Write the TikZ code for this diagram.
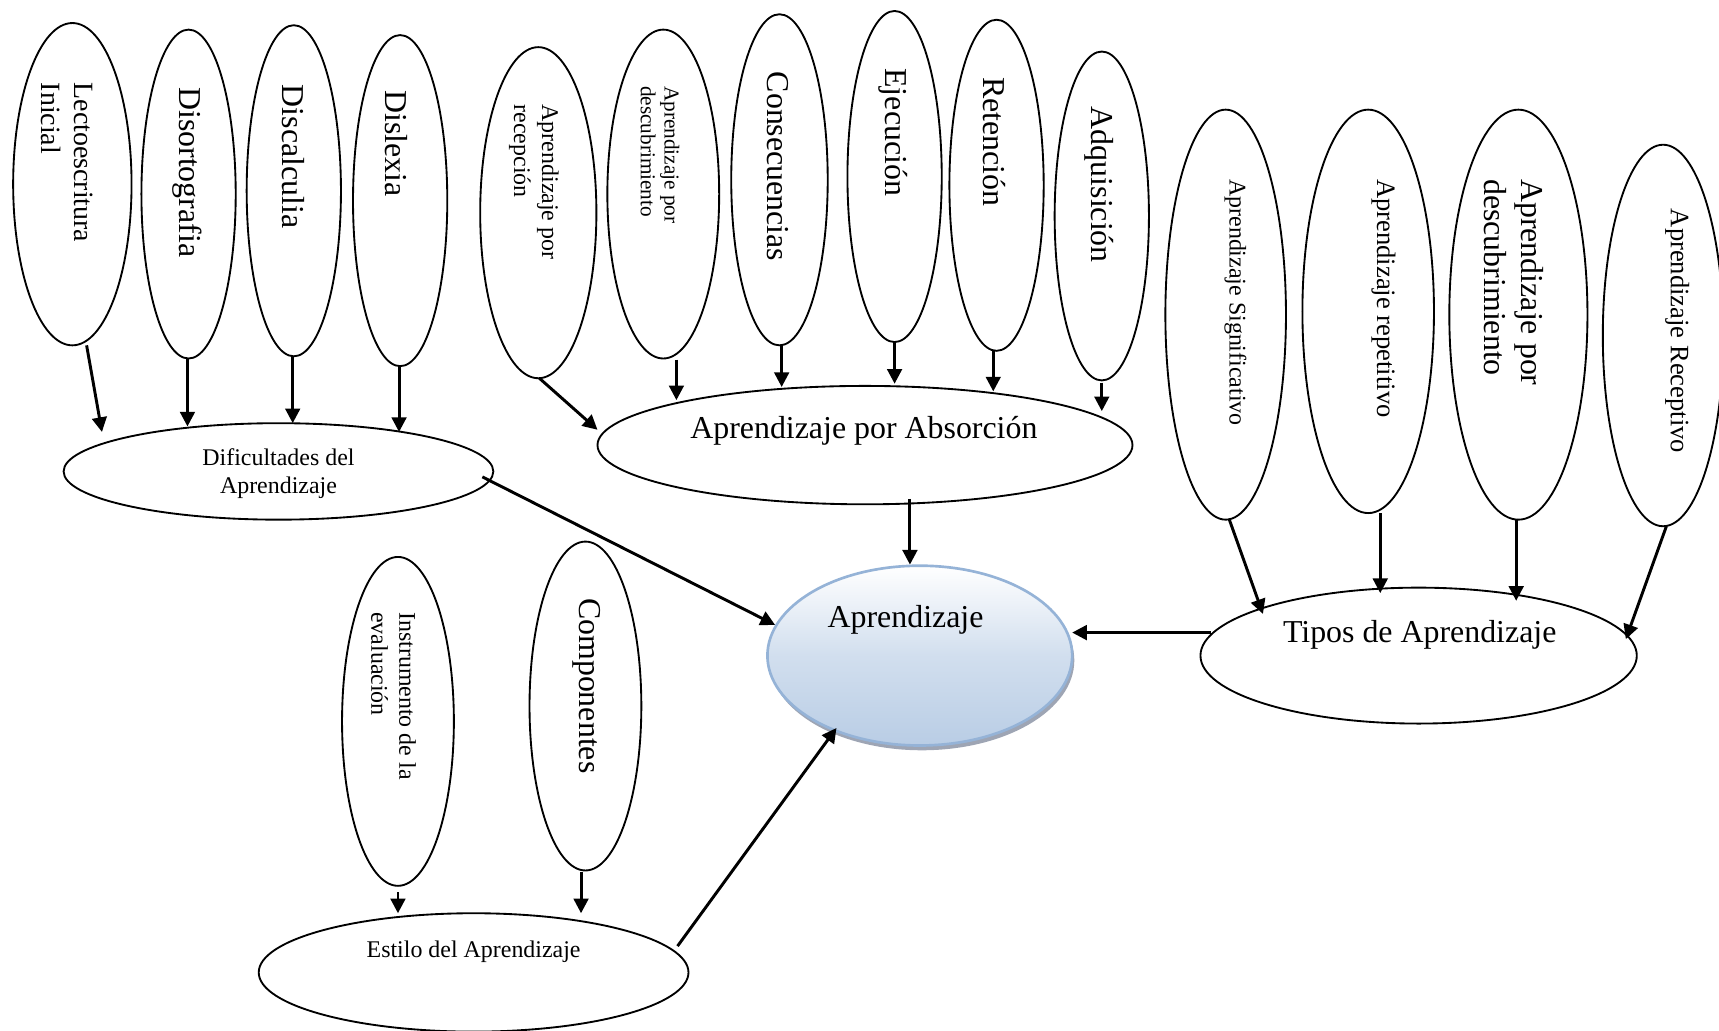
\documentclass[tikz,border=0pt]{standalone}
\usepackage{fontspec}
\setmainfont{Liberation Serif}
\usetikzlibrary{shapes.geometric,arrows.meta,calc,shadows}
\definecolor{aprB}{RGB}{185,205,229}
\definecolor{aprD}{RGB}{149,179,215}
\definecolor{aprS}{RGB}{125,135,155}
\newcommand\setfs[2]{\fontsize{#1}{#2}\selectfont}
\tikzset{
  ov/.style 2 args={draw, ellipse, line width=0.7pt, inner sep=0pt, outer sep=0pt,
    minimum width=#1*0.825pt, minimum height=#2*0.825pt},
  arr/.style={line width=1.1pt, -{Triangle[length=5.5pt,width=5.5pt]}},
  vt/.style={rotate=-90, anchor=west, align=left, inner sep=0pt},
  ht/.style={align=center, inner sep=0pt},
}
\begin{document}
\begin{tikzpicture}[x=0.4125pt, y=-0.4125pt]
\useasboundingbox (0,0) rectangle (1568,940);

% --- Dificultades group ---
\node[ov={54}{147}] (lect) at (66,168) {};
\node[ov={43}{150}] (diso) at (172,177) {};
\node[ov={43}{151}] (disc) at (268,174) {};
\node[ov={43}{151}] (disl) at (365,183) {};
\node[ov={196}{44}] (dif) at (254,430) {};
\node[vt, font=\setfs{10.5}{12.5}] (lectT) at (61,75) {Lectoescritura\\Inicial};
\node[vt, font=\setfs{12}{14}] (disoT) at (171,79) {Disortografia};
\node[vt, font=\setfs{12}{14}] (discT) at (268,77) {Discalculia};
\node[vt, font=\setfs{12}{14}] (dislT) at (362,82) {Dislexia};
\node[ht, font=\setfs{9}{10.5}] (difT) at (254,432) {Dificultades del\\Aprendizaje};

% --- Absorcion group ---
\node[ov={53}{151}] (recep) at (491,194) {};
\node[ov={51}{150}] (desc1) at (605,177) {};
\node[ov={44}{151}] (cons) at (711,164) {};
\node[ov={43}{151}] (ejec) at (816,161) {};
\node[ov={43}{151}] (ret) at (909,169) {};
\node[ov={43}{150}] (adq) at (1005,197) {};
\node[ov={244}{54}] (abs) at (789,406) {};
\node[vt, font=\setfs{9}{10.5}] (recepT) at (487,95) {Aprendizaje por\\recepción};
\node[vt, font=\setfs{8}{9}] (desc1T) at (602,78) {Aprendizaje por\\descubrimiento};
\node[vt, font=\setfs{12}{14}] (consT) at (710,65) {Consecuencias};
\node[vt, font=\setfs{12}{14}] (ejecT) at (815,62) {Ejecución};
\node[vt, font=\setfs{12}{14}] (retT) at (907,70) {Retención};
\node[vt, font=\setfs{12}{14}] (adqT) at (1003,97) {Adquisición};
\node[ht, font=\setfs{12}{14}] (absT) at (788,393) {Aprendizaje por Absorción};

% --- Tipos group ---
\node[ov={55}{187}] (sig) at (1118,287) {};
\node[ov={60}{184}] (rep) at (1248,284) {};
\node[ov={63}{187}] (desc2) at (1385,287) {};
\node[ov={55}{174}] (recv) at (1517,306) {};
\node[ov={199}{62}] (tipos) at (1294,598) {};
\node[vt, font=\setfs{9}{10.5}] (sigT) at (1127,163) {Aprendizaje Significativo};
\node[vt, font=\setfs{10}{12}] (repT) at (1262,163) {Aprendizaje repetitivo};
\node[vt, font=\setfs{12}{14}] (desc2T) at (1381,163) {Aprendizaje por\\descubrimiento};
\node[vt, font=\setfs{10}{12}] (recvT) at (1530,190) {Aprendizaje Receptivo};
\node[ht, font=\setfs{12}{14}] (tiposT) at (1295,579) {Tipos de Aprendizaje};

% --- centre ---
\node[ellipse, draw=aprD, line width=1pt, inner sep=0pt, outer sep=0pt,
  minimum width=139*0.825pt, minimum height=82*0.825pt,
  top color=white, bottom color=aprB, middle color=aprB!65!white,
  drop shadow={shadow xshift=0.8pt, shadow yshift=-1.8pt, fill=aprS, opacity=0.75}] (apr) at (839,598) {};
\node[ht, font=\setfs{12}{14}] (aprT) at (826,565) {Aprendizaje};

% --- Estilo group ---
\node[ov={51}{150}] (inst) at (363,658) {};
\node[ov={51}{150}] (comp) at (534,644) {};
\node[ov={196}{54}] (est) at (432,887) {};
\node[vt, font=\setfs{9}{10.5}] (instT) at (359,558) {Instrumento de la\\evaluación};
\node[vt, font=\setfs{12}{14}] (compT) at (535,545) {Componentes};
\node[ht, font=\setfs{9}{10.5}] (estT) at (432,868) {Estilo del Aprendizaje};

% --- arrows ---
\draw[arr] ($(lect)+(13,147)$) -- ($(dif)+(-161,-36)$);
\draw[arr] ($(diso)+(-1,150)$) -- ($(dif)+(-83,-41)$);
\draw[arr] ($(disc)+(-1,151)$) -- ($(dif)+(13,-44)$);
\draw[arr] ($(disl)+(-1,151)$) -- ($(dif)+(110,-36)$);

\draw[arr] ($(recep)+(1,151)$) -- ($(abs)+(-244,-14)$);
\draw[arr] ($(desc1)+(12,151)$) -- ($(abs)+(-172,-41)$);
\draw[arr] ($(cons)+(2,151)$) -- ($(abs)+(-76,-53)$);
\draw[arr] ($(ejec)+(0,151)$) -- ($(abs)+(27,-56)$);
\draw[arr] ($(ret)+(-3,151)$) -- ($(abs)+(117,-49)$);
\draw[arr] ($(adq)+(0,152)$) -- ($(abs)+(216,-31)$);
\draw[arr] ($(abs)+(41,49)$) -- ($(apr)+(-9,-83)$);

\draw[arr] ($(sig)+(3,186)$) -- ($(tipos)+(-142,-38)$);
\draw[arr] ($(rep)+(11,184)$) -- ($(tipos)+(-35,-57)$);
\draw[arr] ($(desc2)+(-2,186)$) -- ($(tipos)+(89,-50)$);
\draw[arr] ($(recv)+(3,174)$) -- ($(tipos)+(189,-15)$);
\draw[arr] ($(tipos)+(-189,-21)$) -- ($(apr)+(139,-21)$);

\draw[arr] ($(dif)+(186,5)$) -- ($(apr)+(-132,-28)$);
\draw[arr] ($(est)+(186,-24)$) -- ($(apr)+(-76,66)$);
\draw[arr] ($(inst)+(0,156)$) -- ($(est)+(-69,-54)$);
\draw[arr] ($(comp)+(-4,151)$) -- ($(est)+(98,-54)$);
\end{tikzpicture}
\end{document}
